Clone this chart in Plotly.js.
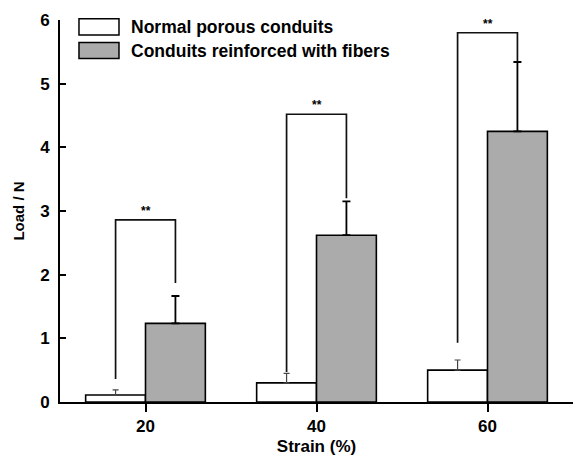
<!DOCTYPE html>
<html><head><meta charset="utf-8">
<script src="https://cdn.plot.ly/plotly-3.0.1.min.js"></script>
<style>html,body{margin:0;padding:0;background:#fff}#chart{width:573px;height:459px}</style>
</head><body><div id="chart"></div>
<script>
const strain = [20, 40, 60];
const normalLoad = [0.11, 0.30, 0.50];
const normalErr = [0.08, 0.15, 0.16];
const fiberLoad = [1.235, 2.62, 4.25];
const fiberErr = [0.43, 0.53, 1.09];
const bracketTop = [2.86, 4.52, 5.80];
const bracketLeftEnd = [0.36, 0.47, 0.93];
const bracketRightEnd = [1.87, 3.20, 5.34];
const sigLabels = ['**', '**', '**'];
const seriesNames = ['Normal porous conduits', 'Conduits reinforced with fibers'];
const tickLabels = ['20', '40', '60'];
const halfBar = 3.5;

const font = 'Liberation Sans, Arial, sans-serif';
const traces = [
  {type:'bar', x:strain, y:normalLoad, name:seriesNames[0],
   marker:{color:'#ffffff', line:{color:'#000', width:1.6}},
   error_y:{type:'data', symmetric:false, array:normalErr, arrayminus:[0,0,0], color:'#444', thickness:1.2, width:3}},
  {type:'bar', x:strain, y:fiberLoad, name:seriesNames[1],
   marker:{color:'#ababab', line:{color:'#000', width:1.6}},
   error_y:{type:'data', symmetric:false, array:fiberErr, arrayminus:[0,0,0], color:'#000', thickness:1.8, width:4}}
];
strain.forEach((s, i) => {
  traces.push({type:'scatter', mode:'lines', showlegend:false, hoverinfo:'skip',
    x:[s-halfBar, s-halfBar, s+halfBar, s+halfBar],
    y:[bracketLeftEnd[i], bracketTop[i], bracketTop[i], bracketRightEnd[i]],
    line:{color:'#111', width:1.7}});
});
const annotations = strain.map((s, i) => ({x:s, y:bracketTop[i], xref:'x', yref:'y', text:'<b>'+sigLabels[i]+'</b>',
  showarrow:false, yanchor:'bottom', yshift:0, font:{family:font, size:12, color:'#000'}}));
// legend
const legY = [0.982, 0.92];
const legColors = ['#ffffff', '#ababab'];
const shapes = [];
seriesNames.forEach((n, i) => {
  shapes.push({type:'rect', xref:'paper', yref:'paper', x0:0.037, x1:0.115, y0:legY[i]-0.021, y1:legY[i]+0.021,
    fillcolor:legColors[i], line:{color:'#000', width:1.5}});
  annotations.push({xref:'paper', yref:'paper', x:0.135, y:legY[i], xanchor:'left', yanchor:'middle', showarrow:false,
    text:'<b>'+n+'</b>', font:{family:font, size:17.5, color:'#000'}});
});
const layout = {
  width:573, height:459, margin:{l:60, r:0, t:20, b:57},
  paper_bgcolor:'#fff', plot_bgcolor:'#fff', showlegend:false,
  barmode:'group', bargap:0.3, bargroupgap:0,
  font:{family:font, color:'#000'},
  xaxis:{range:[10,70], tickvals:strain, ticktext:tickLabels, ticks:'outside', ticklen:8, tickwidth:2, tickcolor:'#000',
    showline:true, linecolor:'#000', linewidth:2, showgrid:false, zeroline:false,
    tickfont:{family:font, size:17, color:'#000', weight:'bold'},
    title:{text:'<b>Strain (%)</b>', font:{family:font, size:17, color:'#000'}, standoff:5}},
  yaxis:{range:[0,6], dtick:1, ticks:'inside', ticklen:6, tickwidth:2, tickcolor:'#000',
    showline:true, linecolor:'#000', linewidth:2, showgrid:false, zeroline:false,
    tickfont:{family:font, size:17, color:'#000', weight:'bold'}, ticklabelstandoff:5,
    title:{text:'<b>Load / N</b>', font:{family:font, size:15, color:'#000'}, standoff:12}},
  shapes:shapes, annotations:annotations
};
Plotly.newPlot('chart', traces, layout, {staticPlot:true});
</script></body></html>
